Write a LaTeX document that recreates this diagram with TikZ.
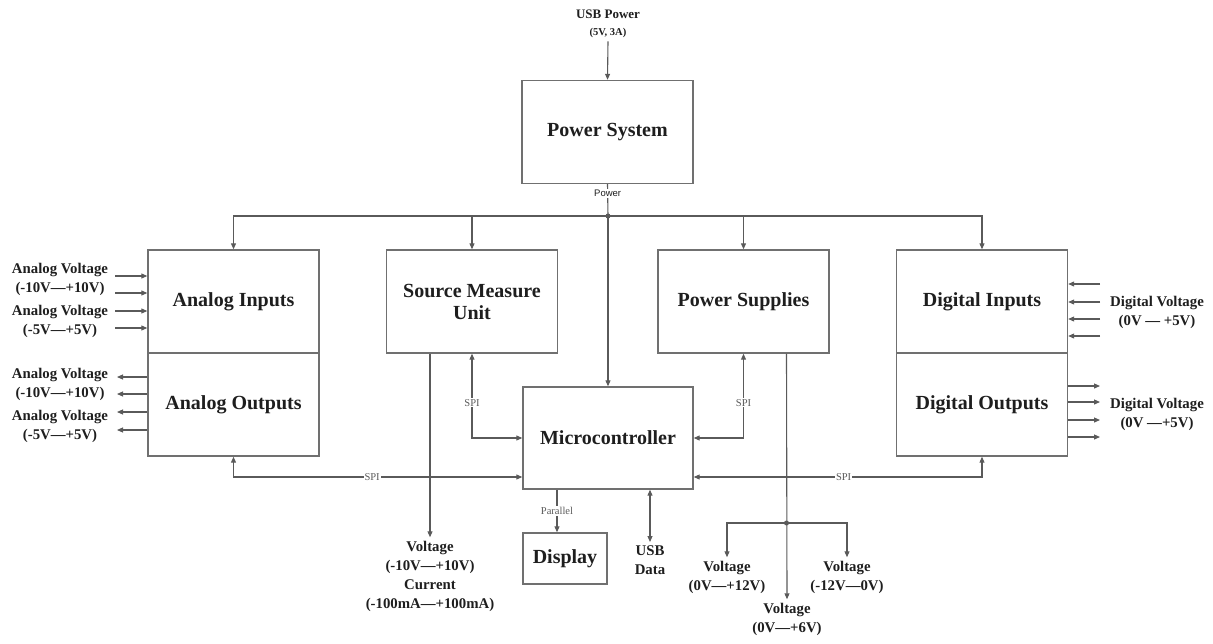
\documentclass[tikz,border=0pt]{standalone}
\usepackage{fontspec}
\setmainfont{Liberation Serif}
\setsansfont{Liberation Sans}
\usetikzlibrary{arrows.meta,positioning,calc}
\definecolor{wiregray}{HTML}{5A5A5A}
\definecolor{boxgray}{HTML}{707070}
\definecolor{inkdark}{HTML}{1E1E1E}

\begin{document}
\begin{tikzpicture}[x=1pt,y=-1pt,>={Triangle[length=6pt,width=5pt]},
  block/.style={draw=boxgray,line width=1.4pt,minimum width=171pt,minimum height=103pt,text=inkdark,font=\fontsize{20}{22}\selectfont\bfseries,align=center},
  wire/.style={draw=wiregray,line width=1.1pt},
  sig/.style={text=inkdark,font=\fontsize{14.8}{19}\selectfont\bfseries,align=center},
  tag/.style={fill=white,inner sep=1pt,text=wiregray,font=\fontsize{10.5}{11}\selectfont}]
\useasboundingbox (0,0) rectangle (1213,643);
% blocks
\node[block] (pwr) at (607.5,132) {Power System};
\node[block] (ain) at (233.5,301.5) {Analog Inputs};
\node[block,below=-1.4pt of ain] (aout) {Analog Outputs};
\node[block] (smu) at (472,301.5) {Source Measure\\Unit};
\node[block] (psu) at (743.5,301.5) {Power Supplies};
\node[block] (din) at (982,301.5) {Digital Inputs};
\node[block,below=-1.4pt of din] (dout) {Digital Outputs};
\node[block,minimum width=170pt,minimum height=102pt] (mcu) at (608,438) {Microcontroller};
\node[block,minimum width=84pt,minimum height=51pt] (disp) at (565,558.5) {Display};
% usb power in
\node[sig,font=\fontsize{13}{14}\selectfont\bfseries] (usbp) at (608,14) {USB Power};
\node[sig,font=\fontsize{10.5}{11}\selectfont\bfseries] (usbv) at (608,33) {(5V, 3A)};
\draw[wire,->] (usbv.south) -- (pwr.north);
% power bus
\coordinate (bus) at (608,216);
\draw[wire] (pwr.south) -- node[pos=0.3,tag,text=inkdark,font=\sffamily\fontsize{9.5}{10}\selectfont] {Power} (bus);
\foreach \b in {ain,smu,psu,din}
  \draw[wire,->] (bus) -| (\b.north);
\draw[wire,->] (bus) -- (mcu.north);
\fill[wiregray] (bus) circle (2.5pt);
% spi links
\coordinate (mcuL) at ([yshift=-39pt]mcu.west);
\coordinate (mcuR) at ([yshift=-39pt]mcu.east);
\draw[wire,<->] (smu.south) |- node[pos=0.29,tag]{SPI} (mcu.west);
\draw[wire,<->] (psu.south) |- node[pos=0.29,tag]{SPI} (mcu.east);
\draw[wire,<->] (aout.south) |- node[pos=0.74,tag]{SPI} (mcuL);
\draw[wire,<->] (dout.south) |- node[pos=0.74,tag]{SPI} (mcuR);
% analog side
\node[sig] (ailab1) at (60,279.5) {Analog Voltage\\(-10V—+10V)};
\node[sig] (ailab2) at (60,321.5) {Analog Voltage\\(-5V—+5V)};
\node[sig] (aolab1) at (60,384.5) {Analog Voltage\\(-10V—+10V)};
\node[sig] (aolab2) at (60,426) {Analog Voltage\\(-5V—+5V)};
\foreach \y [count=\i] in {276,293,311,328}
  {\coordinate (ai\i) at (115,\y); \draw[wire,->] (ai\i) -- (ai\i -| ain.west);}
\foreach \y [count=\i] in {377,394,412,430}
  {\coordinate (ao\i) at (117,\y); \draw[wire,->] (ao\i -| aout.west) -- (ao\i);}
% digital side
\node[sig] (dilab) at (1157,312.5) {Digital Voltage\\(0V — +5V)};
\node[sig] (dolab) at (1157,414.5) {Digital Voltage\\(0V —+5V)};
\foreach \y [count=\i] in {284,302,319,336}
  {\coordinate (di\i) at (1100,\y); \draw[wire,->] (di\i) -- (di\i -| din.east);}
\foreach \y [count=\i] in {386,402,420,437}
  {\coordinate (do\i) at (1100,\y); \draw[wire,->] (do\i -| dout.east) -- (do\i);}
% smu output
\node[sig] (smuout) at (430,576) {Voltage\\(-10V—+10V)\\Current\\(-100mA—+100mA)};
\draw[wire,->] (smuout.north |- smu.south) -- (smuout.north);
% display and usb data
\coordinate (par) at ([xshift=-8pt]disp.north);
\draw[wire,->] (par |- mcu.south) -- node[tag]{Parallel} (par);
\node[sig] (usbd) at (650,560) {USB\\Data};
\draw[wire,<->] (usbd.north |- mcu.south) -- (usbd.north);
% supply outputs
\coordinate (psuo) at ([xshift=43pt]psu.south);
\coordinate (psj) at (psuo |- 0,523);
\node[sig] (v12) at (727,577) {Voltage\\(0V—+12V)};
\node[sig] (vm12) at (847,577) {Voltage\\(-12V—0V)};
\node[sig] (v6) at (787,619) {Voltage\\(0V—+6V)};
\draw[wire,->] (psuo) -- (v6.north);
\draw[wire,->] (psj) -| (v12.north);
\draw[wire,->] (psj) -| (vm12.north);
\fill[wiregray] (psj) circle (2.5pt);
\end{tikzpicture}
\end{document}
